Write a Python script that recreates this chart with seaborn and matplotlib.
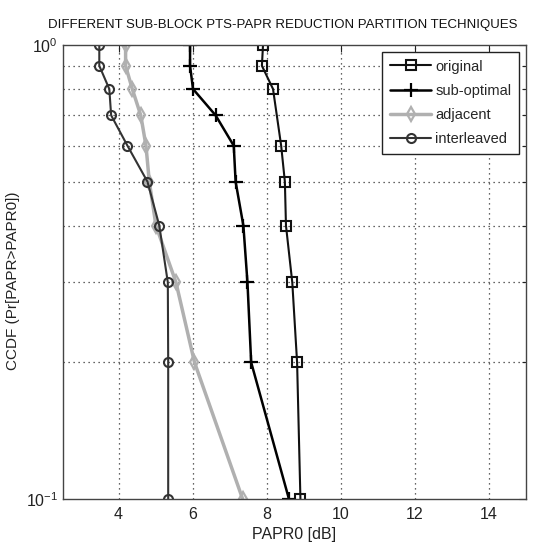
import matplotlib
matplotlib.use("Agg")
import matplotlib.pyplot as plt
import matplotlib.ticker as mticker
import seaborn as sns
import pandas as pd
import numpy as np

# ---- data ----
ccdf_levels = [1.0, 0.9, 0.8, 0.7, 0.6, 0.5, 0.4, 0.3, 0.2, 0.1]
ccdf_original = [1.0, 0.9, 0.8, 0.6, 0.5, 0.4, 0.3, 0.2, 0.1]
papr_original = [7.90, 7.87, 8.17, 8.39, 8.49, 8.52, 8.69, 8.82, 8.91]
papr_suboptimal = [5.93, 5.93, 6.01, 6.62, 7.11, 7.16, 7.37, 7.48, 7.58, 8.60]
papr_adjacent = [4.19, 4.19, 4.37, 4.60, 4.74, 4.83, 5.01, 5.55, 6.05, 7.35]
papr_interleaved = [3.48, 3.48, 3.75, 3.80, 4.24, 4.78, 5.10, 5.33, 5.34, 5.34]
x_ticks = [4, 6, 8, 10, 12, 14]
y_grid = [0.2, 0.3, 0.4, 0.5, 0.6, 0.7, 0.8, 0.9]

title = "DIFFERENT SUB-BLOCK PTS-PAPR REDUCTION PARTITION TECHNIQUES"
xlabel = "PAPR0 [dB]"
ylabel = "CCDF (Pr[PAPR>PAPR0])"

sns.set_theme(style="white")
plt.rcParams["font.family"] = ["Liberation Sans", "DejaVu Sans"]
plt.rcParams["mathtext.fontset"] = "custom"
plt.rcParams["mathtext.rm"] = "Liberation Sans"
plt.rcParams["mathtext.it"] = "Liberation Sans"

fig = plt.figure(figsize=(5.38, 5.44), dpi=100)
ax = fig.add_axes([63 / 538, 1 - 499 / 544, (526 - 63) / 538, (499 - 45) / 544])

series = [
    ("original", papr_original, ccdf_original, dict(color="#111111", marker="s", markersize=7, linewidth=1.5,
                                                      markerfacecolor="none", markeredgecolor="#111111",
                                                      markeredgewidth=1.5)),
    ("sub-optimal", papr_suboptimal, ccdf_levels, dict(color="#000000", marker="+", markersize=10, linewidth=1.8,
                                                        markeredgecolor="#000000", markeredgewidth=1.6)),
    ("adjacent", papr_adjacent, ccdf_levels, dict(color="#b0b0b0", marker="d", markersize=7, linewidth=2.5,
                                                   markerfacecolor="none", markeredgecolor="#b0b0b0",
                                                   markeredgewidth=1.6)),
    ("interleaved", papr_interleaved, ccdf_levels, dict(color="#333333", marker="o", markersize=6.5, linewidth=1.5,
                                                         markerfacecolor="none", markeredgecolor="#333333",
                                                         markeredgewidth=1.5)),
]

for name, xs, ys, style in series:
    df = pd.DataFrame({"papr": xs, "ccdf": ys})
    sns.lineplot(data=df, x="papr", y="ccdf", ax=ax, estimator=None, sort=False,
                 label=name, **style)

ax.set_yscale("log")
ax.set_xlim(2.5, 15)
ax.set_ylim(0.1, 1.0)
ax.set_xticks(x_ticks)
ax.yaxis.set_major_locator(mticker.FixedLocator([0.1, 1.0]))
ax.yaxis.set_major_formatter(mticker.LogFormatterSciNotation())
ax.yaxis.set_minor_locator(mticker.FixedLocator(y_grid))
ax.yaxis.set_minor_formatter(mticker.NullFormatter())

ax.grid(False)
for xv in x_ticks:
    ax.axvline(xv, color="#333333", linestyle=(0, (1, 3)), linewidth=0.9, zorder=0)
for yv in y_grid:
    ax.axhline(yv, color="#333333", linestyle=(0, (1, 3)), linewidth=0.9, zorder=0)

ax.tick_params(axis="both", which="both", direction="in", top=True, right=True,
               colors="#222222", labelcolor="#222222")
ax.tick_params(axis="both", which="major", length=5, width=0.8, labelsize=11.5)
ax.tick_params(axis="x", which="major", pad=6)
ax.tick_params(axis="y", which="minor", length=3, width=0.8)
for s in ax.spines.values():
    s.set_color("#444444")
    s.set_linewidth(1.0)

ax.set_xlabel(xlabel, fontsize=11.5, color="#222222", labelpad=3)
ax.set_ylabel(ylabel, fontsize=11, color="#222222")
ax.yaxis.set_label_coords(-(63 - 20) / (526 - 63), 0.48)

t = fig.text(283 / 538, 1 - 25 / 544, title, ha="center", va="center", fontsize=12, color="#111111")
fig.canvas.draw()
w = t.get_window_extent(fig.canvas.get_renderer()).width
t.set_fontsize(12 * 466 / w)

leg = ax.legend(loc="upper right", fontsize=10.5, frameon=True, fancybox=False,
                edgecolor="#222222", framealpha=1, handlelength=2.8, handletextpad=0.3,
                borderpad=0.55, labelspacing=0.7, borderaxespad=0.45)
leg.get_frame().set_linewidth(1.0)

fig.savefig("out.png", dpi=100)
